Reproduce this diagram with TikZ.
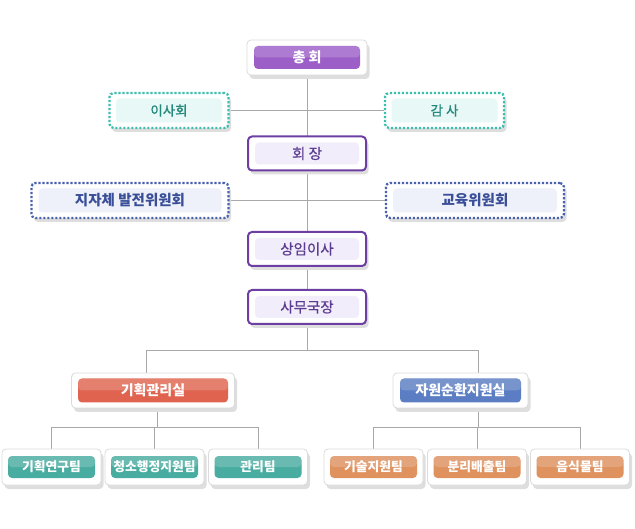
\documentclass[tikz,border=0pt]{standalone}
\usepackage{fontspec}
\newfontfamily\kr{Noto Sans CJK KR}
\newfontfamily\krmed[FakeBold=0.6]{Noto Sans CJK KR}
\usetikzlibrary{positioning,shadows,backgrounds}

\definecolor{linkgray}{HTML}{A8A8A8}
\definecolor{purplebar}{HTML}{9C5FC8}
\definecolor{tealdot}{HTML}{3DBFAE}
\definecolor{tealpale}{HTML}{E8F8F6}
\definecolor{tealtext}{HTML}{22897B}
\definecolor{jangline}{HTML}{6E3FA3}
\definecolor{jangpale}{HTML}{F2EDFA}
\definecolor{jangtext}{HTML}{5C3C91}
\definecolor{bluedot}{HTML}{4A62AE}
\definecolor{bluepale}{HTML}{EEF1FA}
\definecolor{bluetext}{HTML}{3A4F98}
\definecolor{redbar}{HTML}{E0634F}
\definecolor{bluebar}{HTML}{5A7DC3}
\definecolor{teambar}{HTML}{48ADA0}
\definecolor{orangebar}{HTML}{DF915E}

\tikzset{
  frame/.style={draw=black!14, fill=white, rounded corners=4pt, line width=0.8pt,
    minimum height=35pt, inner sep=0pt,
    drop shadow={shadow xshift=2.5pt, shadow yshift=-4pt, fill=black!13, opacity=1}},
  dotframe/.style={frame, draw=#1, line width=2.3pt, dash pattern=on 2.2pt off 1.8pt},
  lineframe/.style={frame, draw=jangline, line width=2pt, minimum height=34pt},
  pale/.style={fill=#1, rounded corners=4pt, minimum height=24pt, inner sep=0pt},
  bar/.style={fill=#1, rounded corners=4pt, minimum height=23pt, inner sep=0pt,
    text=white, font=\kr\bfseries\fontsize{14}{16}\selectfont,
    path picture={\fill[white,opacity=.18] (path picture bounding box.north west)
      rectangle (path picture bounding box.east);}},
  team/.style={bar=#1, minimum width=87pt, minimum height=22pt,
    font=\kr\bfseries\fontsize{12.8}{14}\selectfont},
  link/.style={draw=linkgray, line width=0.8pt},
}

\begin{document}
\begin{tikzpicture}[x=1pt,y=-1pt]
  \useasboundingbox (0,0) rectangle (635,529);

  % top
  \node[frame, minimum width=120pt] (chonghoe) at (307,57.5) {};
  \node[bar=purplebar, minimum width=106pt] (chonghoe bar) at (chonghoe) {총 회};

  \node[dotframe=tealdot, minimum width=119pt] (isahoe) at (169,110.5) {};
  \node[pale=tealpale, minimum width=106pt, text=tealtext, font=\krmed\fontsize{13.5}{15}\selectfont] (isahoe in) at (isahoe) {이사회};
  \node[dotframe=tealdot, minimum width=119pt] (gamsa) at (444.5,110.5) {};
  \node[pale=tealpale, minimum width=106pt, text=tealtext, font=\krmed\fontsize{13.5}{15}\selectfont] (gamsa in) at (gamsa) {감 사};

  \node[lineframe, minimum width=118pt] (hoejang) at (307,153.5) {};
  \node[pale=jangpale, minimum width=104pt, minimum height=22pt, text=jangtext, font=\krmed\fontsize{14.5}{16}\selectfont] (hoejang in) at (hoejang) {회 장};

  \node[dotframe=bluedot, minimum width=197pt] (jijache) at (130,200.5) {};
  \node[pale=bluepale, minimum width=183pt, text=bluetext, font=\kr\bfseries\fontsize{14.5}{16}\selectfont] (jijache in) at (jijache) {지자체 발전위원회};
  \node[dotframe=bluedot, minimum width=178pt] (gyoyuk) at (475,200.5) {};
  \node[pale=bluepale, minimum width=164pt, text=bluetext, font=\kr\bfseries\fontsize{14.5}{16}\selectfont] (gyoyuk in) at (gyoyuk) {교육위원회};

  \node[lineframe, minimum width=118pt] (sangim) at (307,249) {};
  \node[pale=jangpale, minimum width=104pt, minimum height=22pt, text=jangtext, font=\krmed\fontsize{14.5}{16}\selectfont] (sangim in) at (sangim) {상임이사};
  \node[lineframe, minimum width=118pt] (samu) at (307,307) {};
  \node[pale=jangpale, minimum width=104pt, minimum height=22pt, text=jangtext, font=\krmed\fontsize{14.5}{16}\selectfont] (samu in) at (samu) {사무국장};

  % offices
  \node[frame, minimum width=163pt] (gihoek) at (153,390.5) {};
  \node[bar=redbar, minimum width=150pt, minimum height=24pt] (gihoek bar) at (gihoek) {기획관리실};
  \node[frame, minimum width=135pt] (jawon) at (460.5,390.5) {};
  \node[bar=bluebar, minimum width=121pt, minimum height=24pt] (jawon bar) at (jawon) {자원순환지원실};

  % teams
  \node[frame, minimum width=99pt, minimum height=36pt] (giyeon) at (51.5,467) {};
  \node[team=teambar] (giyeon bar) at (giyeon) {기획연구팀};
  \node[frame, minimum width=99pt, minimum height=36pt] (cheongso) at (154.5,467) {};
  \node[team=teambar] (cheongso bar) at (cheongso) {청소행정지원팀};
  \node[frame, minimum width=99pt, minimum height=36pt] (gwanri) at (258,467) {};
  \node[team=teambar] (gwanri bar) at (gwanri) {관리팀};
  \node[frame, minimum width=99pt, minimum height=36pt] (gisul) at (373.5,467) {};
  \node[team=orangebar] (gisul bar) at (gisul) {기술지원팀};
  \node[frame, minimum width=99pt, minimum height=36pt] (bunri) at (477,467) {};
  \node[team=orangebar] (bunri bar) at (bunri) {분리배출팀};
  \node[frame, minimum width=99pt, minimum height=36pt] (eumsik) at (580,467) {};
  \node[team=orangebar] (eumsik bar) at (eumsik) {음식물팀};

  \coordinate (split left) at (146,350);
  \coordinate (split right) at (478,350);
  \coordinate (plan split) at (157,427);
  \coordinate (res split) at (478,427);

  \begin{scope}[on background layer]
    \draw[link] (chonghoe) -- (samu);
    \draw[link] (isahoe) -- (gamsa);
    \draw[link] (jijache) -- (gyoyuk);
    \draw[link] (samu) -- (samu |- split left);
    \draw[link] (split left) -- (split right);
    \draw[link] (split left) -- (split left |- gihoek.north);
    \draw[link] (split right) -- (split right |- jawon.north);
    \draw[link] (plan split |- gihoek.south) -- (plan split);
    \draw[link] (giyeon |- plan split) -- (gwanri |- plan split);
    \draw[link] (giyeon |- plan split) -- (giyeon.north);
    \draw[link] (cheongso |- plan split) -- (cheongso.north);
    \draw[link] (gwanri |- plan split) -- (gwanri.north);
    \draw[link] (res split |- jawon.south) -- (res split);
    \draw[link] (gisul |- res split) -- (eumsik |- res split);
    \draw[link] (gisul |- res split) -- (gisul.north);
    \draw[link] (bunri |- res split) -- (bunri.north);
    \draw[link] (eumsik |- res split) -- (eumsik.north);
  \end{scope}
\end{tikzpicture}
\end{document}
